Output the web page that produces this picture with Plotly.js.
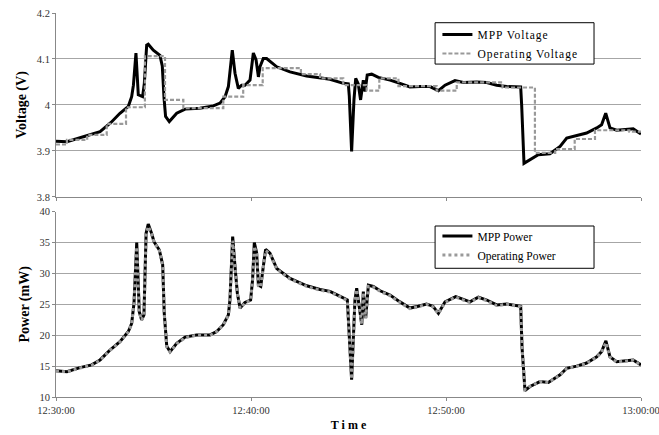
<!DOCTYPE html>
<html><head><meta charset="utf-8">
<script src="https://cdn.plot.ly/plotly-3.0.1.min.js"></script>
<style>html,body{margin:0;padding:0;background:#fff}
.legendtext{letter-spacing:1px}
</style>
</head><body>
<div id="chart" style="width:659px;height:435px"></div>
<script>
// minutes after 12:30:00
const mppVT = [0,0.56,1.57,2.26,2.82,3.28,3.71,3.88,3.97,4.10,4.22,4.44,4.53,4.65,4.73,4.99,5.33,5.45,5.54,5.62,5.81,6.19,6.62,7.38,8.07,8.41,8.67,8.84,9.04,9.18,9.35,9.52,9.69,9.95,10.12,10.26,10.38,10.46,10.63,10.80,11.32,12.0,12.85,14.05,14.73,14.99,15.04,15.16,15.28,15.37,15.5,15.62,15.76,15.85,15.96,16.19,16.53,17.13,17.64,18.15,18.67,19.18,19.61,19.95,20.46,20.89,21.57,22.09,22.6,23.11,23.83,23.88,24.0,24.31,24.73,25.33,25.85,26.19,26.7,27.21,27.73,27.98,28.19,28.41,28.75,29.6,30.0];
const mppV  = [3.921,3.920,3.933,3.942,3.962,3.982,3.997,4.018,4.043,4.113,4.022,4.018,4.047,4.130,4.132,4.119,4.108,4.085,4.015,3.975,3.964,3.982,3.991,3.993,3.998,4.004,4.018,4.040,4.119,4.069,4.036,4.043,4.043,4.054,4.113,4.098,4.061,4.083,4.101,4.101,4.083,4.072,4.063,4.056,4.047,4.046,4.020,3.899,4.011,4.058,4.046,4.011,4.054,4.029,4.065,4.067,4.060,4.054,4.047,4.039,4.040,4.040,4.031,4.043,4.053,4.049,4.050,4.049,4.043,4.040,4.039,4.000,3.873,3.881,3.892,3.894,3.910,3.928,3.933,3.939,3.950,3.957,3.982,3.950,3.945,3.948,3.937];
const opVT = [0,0.56,1.6,2.6,3.59,4.56,5.59,6.53,8.58,9.6,10.6,12.56,13.54,14.73,15.93,16.58,17.56,19.52,20.55,22.9,24.56,25.6,26.6,27.64,29.4,30.0];
const opV  = [3.914,3.924,3.935,3.959,3.995,4.106,4.011,3.993,4.018,4.043,4.080,4.067,4.058,4.043,4.031,4.058,4.041,4.031,4.049,4.038,3.896,3.904,3.926,3.945,3.942,3.938];
const powT = [0,0.56,1.23,1.83,2.26,2.77,3.28,3.71,3.88,4.0,4.14,4.27,4.39,4.51,4.62,4.73,4.9,5.03,5.3,5.47,5.55,5.68,5.85,6.19,6.62,7.21,7.9,8.24,8.58,8.84,8.92,9.06,9.18,9.3,9.44,9.69,9.98,10.08,10.17,10.29,10.38,10.5,10.63,10.75,10.97,11.32,12.0,12.86,13.54,14.05,14.6,14.94,15.16,15.33,15.42,15.55,15.68,15.76,15.88,16.02,16.27,16.62,17.13,17.64,18.15,18.58,19.0,19.33,19.61,19.95,20.5,20.89,21.23,21.66,22.09,22.6,23.11,23.83,23.9,24.05,24.31,24.82,25.25,25.85,26.19,26.7,27.21,27.73,27.98,28.2,28.41,28.75,29.6,30.0];
const mppP = [14.27,14.1,14.76,15.2,16.0,17.6,18.96,20.6,21.9,25.2,35.0,23.8,22.5,23.3,36.5,38.0,36.5,35.1,33.8,31.4,23.6,18.2,17.35,18.7,19.7,20.05,20.05,20.6,21.7,23.3,25.7,35.96,31.1,26.8,24.4,25.3,25.7,28.95,35.0,33.3,28.1,27.9,31.1,33.9,33.3,30.8,29.2,28.0,27.4,27.1,26.25,25.7,12.8,25.7,27.6,24.5,21.7,27.05,22.75,28.1,27.9,27.2,26.5,25.4,24.4,24.7,25.05,24.7,23.55,25.4,26.25,25.8,25.4,26.15,25.7,24.9,25.05,24.7,18.0,11.05,11.7,12.5,12.35,13.6,14.65,15.0,15.5,16.5,17.35,19.1,16.5,15.7,16.0,15.2];
const opP  = [14.2,14.05,14.7,15.15,15.95,17.55,18.9,20.55,21.85,25.1,34.3,23.75,22.45,23.25,36.3,37.6,36.4,35.0,33.7,31.3,23.5,18.1,17.3,18.6,19.6,20.0,20.0,20.55,21.65,23.25,25.6,35.3,31.0,26.7,24.35,25.25,25.65,28.9,34.4,33.1,28.0,27.8,31.0,33.7,33.2,30.7,29.1,27.9,27.3,27.0,26.2,25.6,12.9,25.6,27.4,24.4,21.8,26.9,22.8,27.9,27.8,27.1,26.4,25.3,24.3,24.6,25.0,24.6,23.5,25.3,26.2,25.7,25.3,26.1,25.6,24.8,25.0,24.6,18.0,11.2,11.75,12.5,12.35,13.55,14.6,14.95,15.45,16.45,17.3,18.8,16.45,15.65,15.95,15.15];
const xTickVals = [0,10,20,30];
const xTickText = ['12:30:00','12:40:00','12:50:00','13:00:00'];

const serif = '"Liberation Serif", "Times New Roman", Times, serif';
const traces = [
  {x: mppVT, y: mppV, name: 'MPP Voltage', mode: 'lines', line: {color: '#000', width: 3}, xaxis: 'x', yaxis: 'y', legend: 'legend'},
  {x: opVT, y: opV, name: 'Operating Voltage', mode: 'lines', line: {color: '#999', width: 2.2, dash: '4px,2px', shape: 'hv'}, xaxis: 'x', yaxis: 'y', legend: 'legend'},
  {x: powT, y: mppP, name: 'MPP Power', mode: 'lines', line: {color: '#000', width: 3}, xaxis: 'x2', yaxis: 'y2', legend: 'legend2'},
  {x: powT, y: opP, name: 'Operating Power', mode: 'lines', line: {color: '#9a9a9a', width: 3, dash: 'dot'}, xaxis: 'x2', yaxis: 'y2', legend: 'legend2'}
];
const gridC = '#a6a6a6';
const tickFont = {family: serif, size: 10.5, color: '#333'};
const boxStyle = {type: 'rect', xref: 'paper', yref: 'paper', layer: 'above', fillcolor: '#fff', line: {color: '#000', width: 1}};
const layout = {
  width: 659, height: 435,
  margin: {l: 56, r: 18, t: 13, b: 38},
  paper_bgcolor: '#fff', plot_bgcolor: '#fff',
  font: {family: serif, color: '#000'},
  xaxis: {domain: [0,1], range: [0,30], tickvals: xTickVals, ticktext: xTickText, showticklabels: false,
          showgrid: false, zeroline: false, showline: true, linecolor: '#888', ticks: 'outside', ticklen: 3, tickcolor: '#888', anchor: 'y'},
  yaxis: {domain: [0.521, 1], range: [3.8, 4.2], dtick: 0.1, showgrid: true, gridcolor: gridC, zeroline: false,
          showline: true, linecolor: '#888', ticks: 'outside', ticklen: 3, tickcolor: '#888', tickfont: tickFont,
          title: {text: '<b>Voltage (V)</b>', font: {family: serif, size: 14}, standoff: 6}, anchor: 'x'},
  xaxis2: {domain: [0,1], range: [0,30], tickvals: xTickVals, ticktext: xTickText, tickfont: tickFont, ticklabeloverflow: 'allow',
          showgrid: false, zeroline: false, showline: true, linecolor: '#888', ticks: 'outside', ticklen: 3, tickcolor: '#888', anchor: 'y2',
          title: {text: '<b>T i m e</b>', font: {family: serif, size: 12}, standoff: 6}},
  yaxis2: {domain: [0, 0.4826], range: [10, 40], dtick: 5, showgrid: true, gridcolor: gridC, zeroline: false,
          showline: true, linecolor: '#888', ticks: 'outside', ticklen: 3, tickcolor: '#888', tickfont: tickFont,
          title: {text: '<b>Power (mW)</b>', font: {family: serif, size: 14}, standoff: 6}, anchor: 'x2'},
  shapes: [
    Object.assign({x0: 0.648, x1: 0.9197, y0: 0.867, y1: 0.9747}, boxStyle),
    Object.assign({x0: 0.648, x1: 0.9197, y0: 0.3352, y1: 0.4453}, boxStyle)
  ],
  legend: {x: 0.652, y: 0.9818, xanchor: 'left', yanchor: 'top', bgcolor: 'rgba(0,0,0,0)', borderwidth: 0,
           font: {family: serif, size: 11.5}, itemwidth: 30, tracegroupgap: 0},
  legend2: {x: 0.652, y: 0.457, xanchor: 'left', yanchor: 'top', bgcolor: 'rgba(0,0,0,0)', borderwidth: 0,
           font: {family: serif, size: 11.5}, itemwidth: 30, tracegroupgap: 0},
  showlegend: true
};
Plotly.newPlot('chart', traces, layout, {displayModeBar: false, staticPlot: true});
</script>
</body></html>
